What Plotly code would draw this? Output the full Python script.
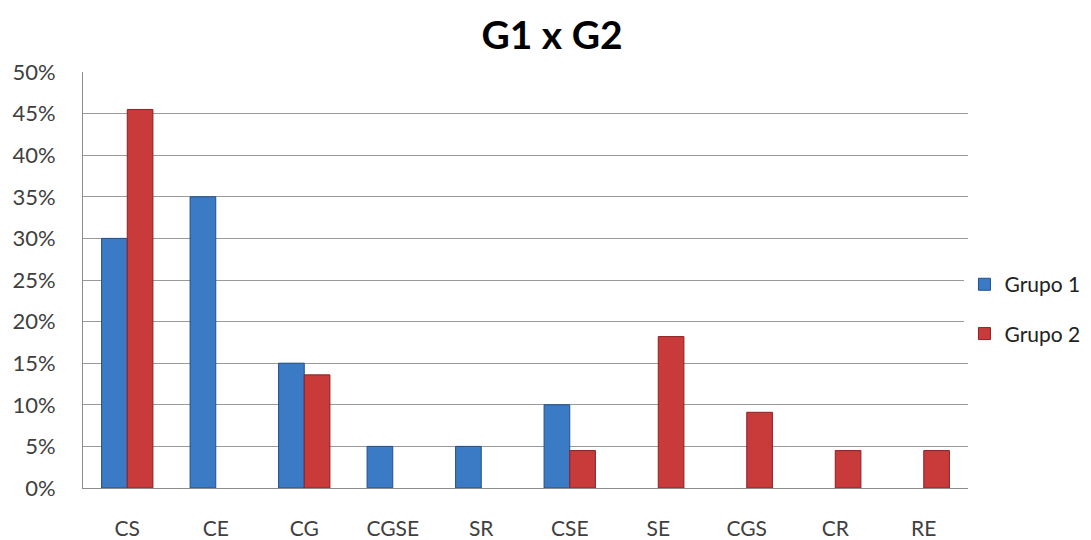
import plotly.graph_objects as go

categories = ["CS", "CE", "CG", "CGSE", "SR", "CSE", "SE", "CGS", "CR", "RE"]
grupo1 = [0.30, 0.35, 0.15, 0.05, 0.05, 0.10, 0, 0, 0, 0]
grupo2 = [0.455, 0, 0.136, 0, 0, 0.045, 0.182, 0.091, 0.045, 0.045]
series_names = ["Grupo 1", "Grupo 2"]
y_ticks = [0, 0.05, 0.10, 0.15, 0.20, 0.25, 0.30, 0.35, 0.40, 0.45, 0.50]

FONT = "Lato, Open Sans, sans-serif"

def outline(vals):
    return [1 if v > 0 else 0 for v in vals]

fig = go.Figure()
fig.add_trace(go.Bar(
    x=categories, y=grupo1, name=series_names[0], legendgroup="g1",
    marker=dict(color="#3b7bc6", line=dict(color="#244f86", width=outline(grupo1))),
))
fig.add_trace(go.Bar(
    x=categories, y=grupo2, name=series_names[1], legendgroup="g2",
    marker=dict(color="#c93a3b", line=dict(color="#8a2224", width=outline(grupo2))),
))

fig.update_layout(
    width=1083, height=532,
    paper_bgcolor="white", plot_bgcolor="white",
    margin=dict(l=75, r=123, t=64, b=52, autoexpand=False),
    barmode="group", bargap=0.42, bargroupgap=0,
    title=dict(text="<b>G1 x G2</b>", x=0.5023, xanchor="center", y=0.949, yanchor="middle",
               font=dict(family=FONT, size=39, color="#000000")),
    font=dict(family=FONT, size=21, color="#404040"),
    legend=dict(x=0.996, xanchor="left", y=0.43, yanchor="middle",
                traceorder="grouped", tracegroupgap=19,
                font=dict(family=FONT, size=21, color="#222222")),
    showlegend=True,
)
fig.update_xaxes(
    showline=True, linecolor="#8c8c8c", linewidth=1, showgrid=False, automargin=False,
    ticks="", ticklabelstandoff=22, tickfont=dict(size=21, color="#404040"),
)
fig.update_yaxes(
    range=[0, 0.5], tickvals=y_ticks, tickformat=".0%", automargin=False,
    showgrid=True, gridcolor="#9a9a9a", gridwidth=1,
    showline=True, linecolor="#8c8c8c", linewidth=1,
    zeroline=False, ticks="", ticklabelstandoff=22,
    tickfont=dict(size=22, color="#404040"),
)

fig.write_html("out.html")
